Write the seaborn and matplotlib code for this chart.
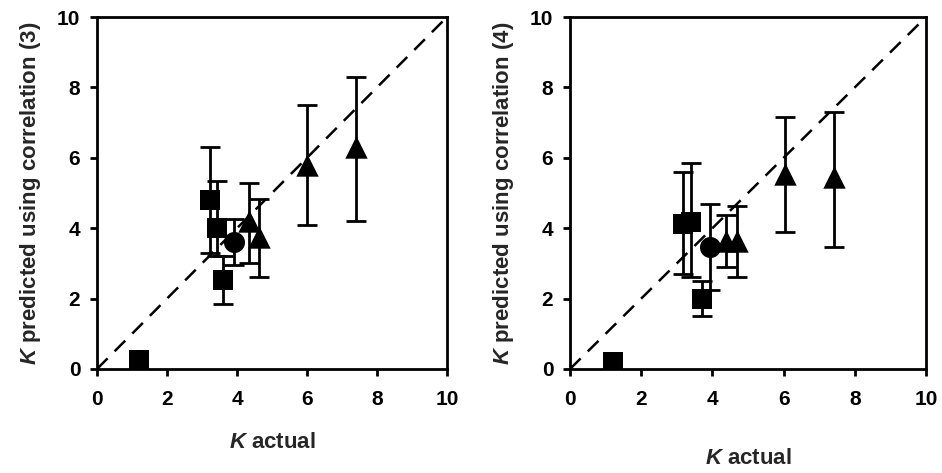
import matplotlib
matplotlib.use("Agg")
import matplotlib.pyplot as plt
import seaborn as sns
import pandas as pd

sns.set_theme(style="white")
plt.rcParams['font.family'] = ['Liberation Sans', 'DejaVu Sans']
plt.rcParams['font.weight'] = 'bold'
plt.rcParams['mathtext.fontset'] = 'custom'
plt.rcParams['mathtext.it'] = 'Liberation Sans:italic:bold'
plt.rcParams['mathtext.rm'] = 'Liberation Sans:bold'

# shared x values (K actual) and group (marker type)
k_actual_left = [1.2, 3.23, 3.42, 3.6, 3.91, 4.35, 4.63, 6.0, 7.4]
k_actual_right = [1.2, 3.17, 3.4, 3.7, 3.93, 4.38, 4.7, 6.04, 7.42]
groups = ["sq", "sq", "sq", "sq", "ci", "tr", "tr", "tr", "tr"]

# correlation (3)
pred3 = [0.25, 4.8, 4.0, 2.53, 3.6, 4.2, 3.75, 5.8, 6.3]
pred3_hi = [0.25, 6.3, 5.35, 3.2, 4.26, 5.28, 4.83, 7.5, 8.3]
pred3_lo = [0.25, 3.3, 3.2, 1.85, 2.95, 3.0, 2.6, 4.1, 4.2]

# correlation (4)
pred4 = [0.2, 4.12, 4.18, 2.0, 3.48, 3.65, 3.65, 5.55, 5.45]
pred4_hi = [0.2, 5.6, 5.85, 2.5, 4.7, 4.37, 4.63, 7.15, 7.3]
pred4_lo = [0.2, 2.7, 2.6, 1.5, 2.25, 2.9, 2.6, 3.9, 3.47]

ticks = [0, 2, 4, 6, 8, 10]

fig = plt.figure(figsize=(9.42, 4.73), dpi=100)
ax1 = fig.add_axes([97/942, 1-369/473, 350/942, 352/473])
ax2 = fig.add_axes([570/942, 1-369/473, 356/942, 352/473])

markers = {"sq": "s", "ci": "o", "tr": "^"}
sizes = {"sq": 190, "ci": 230, "tr": 260}

def panel(ax, xs, ys, hi, lo, ylabel, xlabel_pad):
    df = pd.DataFrame({"x": xs, "y": ys, "g": groups})
    ax.plot([0, 10], [0, 10], color="black", lw=1.8, ls=(0, (6, 4)), zorder=1)
    yerr = [[y - l for y, l in zip(ys, lo)], [h - y for y, h in zip(ys, hi)]]
    ax.errorbar(xs[1:], ys[1:], yerr=[yerr[0][1:], yerr[1][1:]], fmt="none",
                ecolor="black", elinewidth=2, capsize=7, capthick=2, zorder=2)
    for g in ["sq", "ci", "tr"]:
        sub = df[df.g == g]
        sns.scatterplot(data=sub, x="x", y="y", marker=markers[g], s=sizes[g],
                        color="black", edgecolor="black", linewidth=0, ax=ax,
                        zorder=3, legend=False)
    ax.set_xlim(0, 10)
    ax.set_ylim(0, 10)
    ax.set_xticks(ticks)
    ax.set_yticks(ticks)
    ax.set_xticklabels([str(t) for t in ticks], fontsize=15, fontweight="bold")
    ax.set_yticklabels([str(t) for t in ticks], fontsize=15, fontweight="bold")
    for s in ax.spines.values():
        s.set_color("black")
        s.set_linewidth(2)
        s.set_visible(True)
    ax.tick_params(direction="out", length=5, width=2, color="black",
                   bottom=True, left=True, labelcolor="black")
    ax.tick_params(axis="x", pad=10)
    ax.tick_params(axis="y", pad=7)
    ax.set_xlabel(r"$K$ actual", fontsize=16, fontweight="bold", labelpad=xlabel_pad)
    ax.set_ylabel(ylabel, fontsize=16, fontweight="bold", labelpad=10)
    ax.grid(False)

panel(ax1, k_actual_left, pred3, pred3_hi, pred3_lo,
      r"$K$ predicted using correlation (3)", 17)
panel(ax2, k_actual_right, pred4, pred4_hi, pred4_lo,
      r"$K$ predicted using correlation (4)", 28)

fig.savefig("out.png", dpi=100)
